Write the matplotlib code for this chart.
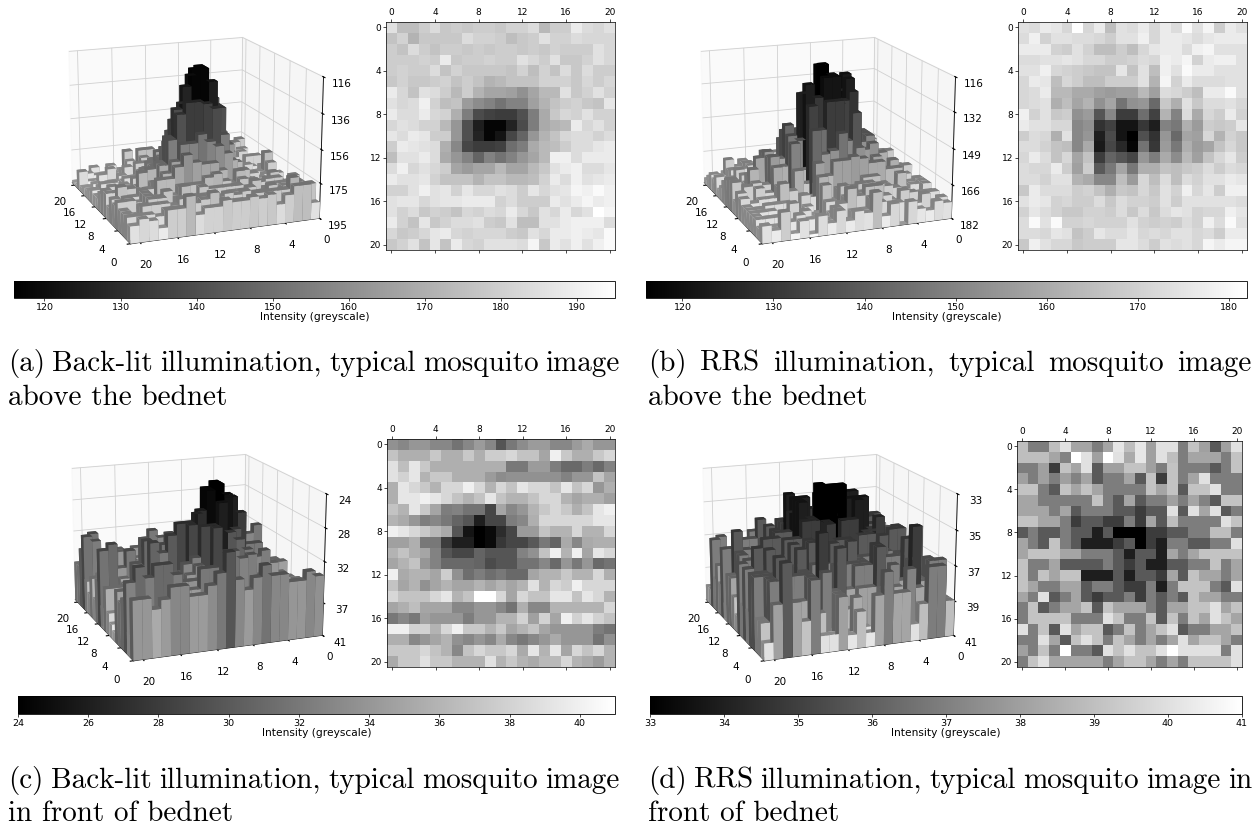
import numpy as np
import matplotlib
matplotlib.use("Agg")
import matplotlib.pyplot as plt
from matplotlib.cm import ScalarMappable
from matplotlib.colors import Normalize

W, H = 1255, 827

# Grey levels (0-255) of every cell.
levels_a = [
[225,190,190,205,220,200,205,200,205,205,200,210,210,220,185,205,205,235,220,215,225],
[195,210,180,200,200,200,200,220,210,210,205,190,200,205,225,210,210,220,215,215,215],
[205,195,220,205,195,205,205,200,205,200,205,205,200,205,200,210,205,205,205,225,215],
[205,205,205,210,205,235,200,205,205,210,205,205,225,215,205,225,200,200,210,225,215],
[205,210,205,205,220,195,210,200,200,200,200,195,210,190,210,195,220,200,220,205,205],
[200,210,200,200,205,210,195,205,195,180,185,195,195,195,210,210,210,200,215,205,215],
[235,215,195,225,220,205,185,205,180,165,165,160,145,165,185,185,225,200,210,225,210],
[225,215,220,240,210,190,195,155,140,130,115,130,130,160,180,195,205,210,200,195,230],
[235,220,220,235,215,210,175,125,75,65,60,60,80,125,170,200,215,210,225,210,210],
[215,225,220,210,210,185,150,80,30,5,5,35,75,125,170,180,185,235,215,225,210],
[230,220,235,230,205,205,150,80,35,5,20,70,100,150,180,195,215,220,220,210,220],
[205,235,230,225,220,175,135,70,60,60,65,110,125,170,185,190,205,220,220,230,235],
[190,225,225,235,220,170,150,130,100,130,115,130,150,165,185,240,240,220,235,235,235],
[220,240,215,225,215,205,165,155,165,165,185,165,165,185,200,225,235,240,220,220,230],
[235,225,225,230,210,195,195,195,180,195,195,185,185,190,210,235,220,240,225,230,235],
[210,210,225,240,225,230,210,230,215,215,225,220,205,230,215,225,230,245,240,250,240],
[225,230,230,215,225,230,230,235,235,235,210,220,205,205,205,235,225,235,245,235,240],
[225,210,220,200,210,205,195,215,210,220,215,235,215,200,225,215,235,215,225,255,245],
[235,210,195,230,200,210,220,220,225,205,200,225,190,190,225,225,235,240,240,240,220],
[215,200,205,215,230,235,215,210,215,215,215,205,200,225,215,235,235,240,235,230,250],
[200,210,225,195,230,195,235,215,210,225,225,225,220,245,200,235,225,240,225,240,250],
]
levels_b = [
[225,220,235,230,215,255,215,235,190,225,220,235,215,235,220,250,225,245,205,235,225],
[220,240,210,225,225,220,220,215,205,225,225,240,215,235,235,230,220,230,235,235,235],
[235,235,235,210,205,225,210,190,190,205,190,215,230,235,235,220,240,245,225,225,225],
[220,220,225,225,230,225,215,215,205,205,210,220,215,240,235,245,210,235,240,240,225],
[225,225,240,215,210,205,200,195,195,230,195,225,190,240,225,250,235,235,225,225,225],
[215,235,230,190,215,205,190,190,205,205,205,225,180,245,210,235,220,220,220,225,225],
[215,220,235,185,185,170,170,160,155,160,160,185,160,220,215,205,190,235,235,250,225],
[215,220,225,175,190,165,180,145,165,115,145,150,105,200,175,225,200,220,220,225,215],
[240,210,225,200,205,145,155,85,135,60,60,110,65,180,130,220,170,215,205,235,210],
[235,225,225,215,215,135,145,50,65,20,20,55,30,130,120,175,155,205,200,205,230],
[205,220,215,175,225,135,150,30,75,20,0,80,50,150,105,165,160,215,180,210,200],
[220,220,210,195,190,135,170,25,70,40,5,115,55,155,120,175,155,165,195,215,200],
[215,235,220,195,215,165,195,60,100,85,70,150,125,170,140,185,160,195,215,230,205],
[220,215,215,235,205,160,205,90,120,165,120,175,175,195,190,200,205,220,205,220,215],
[220,220,210,225,225,180,170,135,135,190,155,215,190,220,190,220,210,225,225,235,230],
[200,235,220,220,220,205,210,195,175,200,195,215,200,225,210,240,215,230,205,240,240],
[225,235,230,210,215,205,205,220,200,220,210,210,205,225,205,225,225,225,225,225,220],
[210,230,220,210,200,200,210,210,205,220,200,220,200,220,230,225,210,215,215,240,230],
[220,250,225,250,210,210,215,210,210,210,225,210,205,210,205,220,210,240,220,250,225],
[220,220,215,230,225,195,205,230,220,220,230,215,220,215,225,225,215,220,205,235,235],
[200,240,225,215,215,200,205,205,205,230,230,220,205,225,220,225,215,245,235,245,245],
]
levels_c = [
[145,135,150,150,135,135,115,135,155,135,85,120,140,155,155,135,135,155,170,150,150],
[195,175,175,175,200,175,175,200,175,205,205,215,195,195,165,240,200,175,175,200,215],
[225,190,230,200,175,175,175,175,175,175,175,120,120,155,155,125,105,105,125,105,130],
[225,210,230,180,200,200,175,175,175,155,140,145,145,145,145,145,130,150,150,195,165],
[175,230,215,200,180,215,215,240,215,180,215,195,230,215,215,195,230,195,215,150,175],
[175,230,230,240,230,215,195,180,195,230,195,180,180,195,215,215,180,165,175,175,160],
[195,180,230,200,165,125,130,115,115,70,165,135,150,180,200,215,200,175,195,230,240],
[180,170,150,125,135,120,100,85,30,70,70,125,135,175,215,215,215,215,215,230,230],
[240,230,215,200,185,170,85,20,0,10,45,70,155,155,195,180,180,215,180,180,215],
[160,160,175,120,120,60,30,30,0,10,55,70,70,90,120,100,170,135,170,175,175],
[180,195,175,165,130,85,70,70,100,85,85,85,130,145,195,240,180,240,165,230,215],
[165,180,195,150,130,105,105,105,100,75,85,85,115,115,135,105,150,120,150,105,115],
[240,170,180,180,165,205,145,110,125,110,120,105,105,165,180,180,200,180,180,215,175],
[195,165,180,145,165,180,165,165,180,165,180,165,180,225,180,215,205,240,215,215,215],
[215,195,195,195,215,230,180,195,255,255,215,165,215,195,195,230,230,195,230,215,180],
[165,175,190,165,165,165,135,135,150,150,135,115,175,135,135,180,180,180,180,180,215],
[120,135,120,160,150,150,150,125,150,150,180,180,210,160,210,165,240,210,230,210,195],
[240,240,210,210,180,215,240,200,200,180,200,165,180,195,165,150,150,150,150,125,115],
[175,175,135,150,165,180,145,135,150,135,170,135,120,135,150,170,150,150,150,115,145],
[200,200,200,215,195,180,135,195,215,200,200,215,170,230,180,230,165,215,195,215,180],
[170,200,200,225,200,200,180,180,180,225,180,200,180,170,185,185,215,180,170,155,180],
]
levels_d = [
[190,125,125,190,225,165,165,125,165,230,190,230,160,225,225,125,195,160,90,160,225],
[190,190,190,165,130,255,225,160,255,225,170,230,160,225,190,125,165,165,165,125,195],
[125,125,160,60,195,165,225,90,160,160,195,195,160,125,195,125,125,125,90,125,195],
[160,125,160,125,160,130,165,90,125,125,165,90,195,60,195,125,165,225,125,125,125],
[195,195,125,90,195,165,195,165,125,125,125,125,195,165,195,90,195,195,225,125,125],
[165,165,125,125,125,125,125,195,125,90,165,90,125,125,160,125,165,130,90,195,195],
[165,165,165,125,165,90,125,125,125,90,90,60,90,90,225,90,225,165,225,90,125],
[195,195,165,165,125,60,90,90,60,60,125,60,165,90,190,125,125,125,125,225,195],
[90,125,90,90,125,90,90,30,90,0,0,0,60,60,90,90,125,125,190,190,125],
[165,125,90,195,125,90,30,30,30,60,90,0,60,30,125,125,90,90,125,125,225],
[165,195,195,195,165,165,125,125,125,90,30,90,90,30,165,125,165,195,195,195,195],
[195,125,125,165,90,90,90,90,125,90,60,90,30,30,90,90,125,125,195,125,165],
[195,125,195,165,195,195,30,30,30,90,30,90,90,60,165,90,195,165,165,125,165],
[195,165,125,125,165,165,90,125,125,90,60,60,125,30,125,195,195,195,125,90,225],
[165,125,225,90,125,165,90,60,90,90,125,60,125,90,125,90,195,165,165,125,125],
[125,195,90,125,165,165,195,90,195,165,165,165,125,90,165,165,195,195,225,165,195],
[125,195,195,195,195,125,125,125,225,195,125,125,195,90,195,125,195,165,225,195,165],
[225,125,195,90,225,165,195,195,90,125,195,125,165,195,225,90,125,125,165,165,195],
[125,125,225,165,90,195,225,195,125,195,165,125,165,125,165,225,165,195,195,165,125],
[160,125,195,125,255,125,125,90,225,195,225,195,195,225,255,225,225,225,225,125,225],
[125,195,225,165,165,165,165,165,125,165,195,195,165,125,165,125,195,195,195,195,225],
]

ranges = [(116, 195), (116, 182), (24, 41), (33, 41)]
z_ticks = [[116, 136, 156, 175, 195], [116, 132, 149, 166, 182], [24, 28, 32, 37, 41], [33, 35, 37, 39, 41]]
bar_ticks = [list(range(120, 191, 10)), list(range(120, 181, 10)), list(range(24, 41, 2)), list(range(33, 42))]
grid_ticks = [0, 4, 8, 12, 16, 20]
captions = [
    ("(a) Back-lit illumination, typical mosquito image", "above the bednet"),
    ("(b) RRS illumination, typical mosquito image", "above the bednet"),
    ("(c) Back-lit illumination, typical mosquito image", "in front of bednet"),
    ("(d) RRS illumination, typical mosquito image in", "front of bednet"),
]

# Pixel layout: left, right, top, bottom
box3d = [(0, 373, -24, 298), (632, 1005, -24, 298), (3, 376, 393, 715), (634, 1007, 393, 715)]
boxmap = [(386, 615, 22, 250), (1018, 1247, 22, 250), (387, 615, 439, 667), (1017, 1242, 441, 667)]
boxbar = [(14, 615, 281, 298), (646, 1247, 281, 298), (18, 615, 696, 714), (650, 1242, 696, 714)]
capx = [(8, 620, 371, 405), (648, 1252, 371, 405), (8, 620, 788, 821), (648, 1252, 788, 821)]


def add_axes(box, **kw):
    l, r, t, b = box
    return fig.add_axes([l / W, 1 - b / H, (r - l) / W, (b - t) / H], **kw)


fig = plt.figure(figsize=(W / 100, H / 100), dpi=100)
renderer = fig.canvas.get_renderer()

for i, levels in enumerate([levels_a, levels_b, levels_c, levels_d]):
    vmin, vmax = ranges[i]
    vals = vmin + np.array(levels, float) / 255 * (vmax - vmin)
    norm = Normalize(vmin, vmax)

    # 3D bars; faces in bar3d order -z, +z, -y, +y, -x, +x
    ax = add_axes(box3d[i], projection="3d")
    ax.patch.set_visible(False)
    ax.set_zorder(-1)
    rows, cols = np.indices(vals.shape)
    x, y, v = cols.ravel(), rows.ravel(), vals.ravel()
    base = plt.cm.gray(norm(v))
    face_gain = np.array([0.6, 0.6, 1.0, 0.6, 0.6, 0.6])
    faces = np.repeat(base[:, None, :], 6, axis=1)
    faces[:, :, :3] *= face_gain[None, :, None]
    ax.bar3d(x, y, np.full(v.shape, float(vmax)), 1, 1, v - vmax,
             color=faces.reshape(-1, 4), shade=False)
    ax.set_xlim(21, 0)
    ax.set_ylim(0, 21)
    ax.set_zlim(vmax, vmin)
    ax.view_init(elev=16, azim=-111)
    ax.set_proj_type("persp", focal_length=0.75)
    ax.set_box_aspect((1, 1, 0.73), zoom=0.93)
    ax.set_xticks(grid_ticks)
    ax.set_yticks(grid_ticks)
    ax.set_zticks(z_ticks[i])
    ax.zaxis.set_ticks_position("lower")
    ax.tick_params(labelsize=7.5, pad=2, length=2)
    ax.tick_params(axis="z", pad=0)
    ax.xaxis.set_pane_color((0.94, 0.94, 0.94, 0.6))
    ax.yaxis.set_pane_color((0.97, 0.97, 0.97, 0.6))
    ax.zaxis.set_pane_color((0.95, 0.95, 0.95, 0.6))
    for a in (ax.xaxis, ax.yaxis, ax.zaxis):
        a._axinfo["grid"].update(linewidth=0.6, color="#d0d0d0")
        a.line.set_linewidth(0.6)

    # Heat map
    am = add_axes(boxmap[i])
    am.imshow(vals, cmap="gray", norm=norm, aspect="auto")
    am.set_xticks(grid_ticks)
    am.set_yticks(grid_ticks)
    am.xaxis.tick_top()
    am.tick_params(labelsize=6.5, length=2, width=0.5, pad=1.5, top=True, bottom=True)
    for s in am.spines.values():
        s.set_linewidth(0.5)

    # Colour bar
    ac = add_axes(boxbar[i])
    cb = fig.colorbar(ScalarMappable(norm, "gray"), cax=ac, orientation="horizontal")
    cb.set_ticks(bar_ticks[i])
    cb.ax.tick_params(labelsize=6.8, length=2, width=0.5, pad=1.5)
    cb.outline.set_linewidth(0.6)
    cb.set_label("Intensity (greyscale)", fontsize=7.7, labelpad=0)

    # Caption: first line justified, second left aligned
    l, r, y1, y2 = capx[i]
    words = captions[i][0].split(" ")
    texts = [fig.text(l / W, 1 - y1 / H, w, family="cmr10", fontsize=21, va="baseline") for w in words]
    widths = [t.get_window_extent(renderer).width for t in texts]
    gap = ((r - l) - sum(widths)) / max(len(words) - 1, 1)
    pos = l
    for t, w in zip(texts, widths):
        t.set_x(pos / W)
        pos += w + gap
    fig.text(l / W, 1 - y2 / H, captions[i][1], family="cmr10", fontsize=21, va="baseline")

fig.savefig("out.png", dpi=100)
